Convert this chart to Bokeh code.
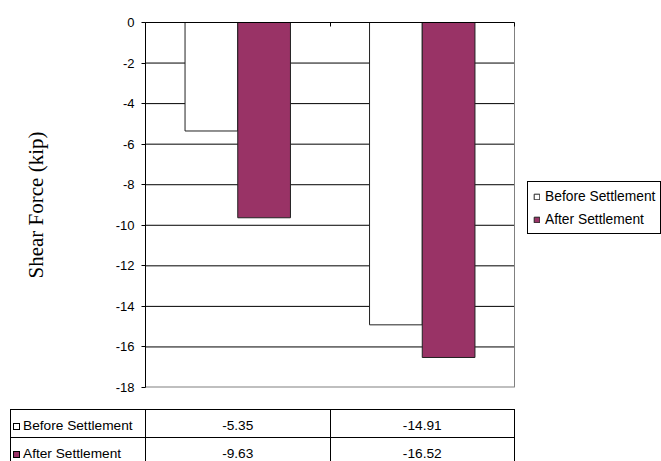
from bokeh.plotting import figure
from bokeh.models import Range1d, FixedTicker, Legend, LegendItem, ColumnDataSource, Div
from bokeh.transform import dodge
from bokeh.layouts import column
from bokeh.embed import file_html
from bokeh.resources import INLINE

# ---- data ----
categories = ["1", "2"]
series_names = ["Before Settlement", "After Settlement"]
before = [-5.35, -14.91]
after = [-9.63, -16.52]
y_ticks = [-18, -16, -14, -12, -10, -8, -6, -4, -2, 0]
y_label = "Shear Force (kip)"

# ---- style / layout ----
PLUM = "#993366"
COLORS = ["white", PLUM]
FONT = "Liberation Sans"
W, H_MAIN, H_TBL = 661, 398, 63
FL, FR = 145, 514            # plot-area left/right in px
n = len(categories)
x_end = n * (W - FL) / (FR - FL)   # frame runs to the right edge; plot area is 0..n
bw = 1 / 3.5
ymin, ymax = min(y_ticks), max(y_ticks)

src = ColumnDataSource(dict(x=[i + 0.5 for i in range(n)], before=before, after=after))

p = figure(width=W, height=H_MAIN, x_range=Range1d(0, x_end),
           y_range=Range1d(ymin, ymax), x_axis_location="above",
           output_backend="svg", toolbar_location=None,
           min_border_left=FL, min_border_right=0, min_border_top=22,
           min_border_bottom=11, outline_line_color=None,
           background_fill_color="white", border_fill_color="white")

p.xaxis.ticker = FixedTicker(ticks=list(range(n + 1)))
p.xaxis.bounds = (0, n)
p.xaxis.major_label_overrides = {i: "" for i in range(n + 1)}
p.xaxis.major_tick_in = 4
p.xaxis.major_tick_out = 0
p.xaxis.minor_tick_line_color = None
p.xaxis.axis_line_color = "black"
p.xaxis.major_tick_line_color = "black"
p.xgrid.visible = False
p.ygrid.visible = False

p.yaxis.ticker = FixedTicker(ticks=y_ticks)
p.yaxis.bounds = (ymin, ymax)
p.yaxis.major_label_overrides = {t: str(t) for t in y_ticks}
p.yaxis.major_tick_out = 4
p.yaxis.major_tick_in = 0
p.yaxis.minor_tick_line_color = None
p.yaxis.axis_line_color = "black"
p.yaxis.major_tick_line_color = "black"
p.yaxis.major_label_text_font = FONT
p.yaxis.major_label_text_font_size = "13px"
p.yaxis.major_label_text_color = "black"
p.yaxis.major_label_standoff = 7
p.yaxis.axis_label = y_label
p.yaxis.axis_label_text_font = "Liberation Serif"
p.yaxis.axis_label_text_font_size = "21px"
p.yaxis.axis_label_text_font_style = "normal"
p.yaxis.axis_label_text_color = "black"
p.yaxis.axis_label_standoff = 65

# horizontal grid lines across the plot area only (0..n)
inner = [t for t in y_ticks if ymin < t < ymax]
p.segment(x0=[0] * len(inner), x1=[n] * len(inner), y0=inner, y1=inner,
          line_color="black", line_width=1)
# grey right and bottom borders of the plot area
p.segment(x0=[n], x1=[n], y0=[ymin], y1=[ymax], line_color="#808080", line_width=1)
p.segment(x0=[0], x1=[n], y0=[ymin], y1=[ymin], line_color="#808080", line_width=2)

r1 = p.vbar(x=dodge("x", -bw / 2, range=p.x_range), top=0, bottom="before", width=bw,
            source=src, fill_color=COLORS[0], line_color="#222222", line_width=1)
r2 = p.vbar(x=dodge("x", bw / 2, range=p.x_range), top=0, bottom="after", width=bw,
            source=src, fill_color=COLORS[1], line_color="#222222", line_width=1)

legend = Legend(items=[LegendItem(label=series_names[0], renderers=[r1]),
                       LegendItem(label=series_names[1], renderers=[r2])],
                location=(527 - FL, 387 - 234),
                label_text_font=FONT, label_text_font_size="13.8px",
                label_text_color="black",
                glyph_width=7, glyph_height=7, label_height=18, label_standoff=5,
                spacing=5, padding=5, margin=0,
                border_line_color="black", border_line_width=1, border_line_alpha=1,
                background_fill_color="white", background_fill_alpha=1)
p.add_layout(legend)

# ---- data table (below the chart) ----
vals = [before, after]
cell = ("border:1px solid #000;padding:4px 0 0 0;height:28px;box-sizing:border-box;"
        "white-space:nowrap;overflow:hidden;vertical-align:middle;")
rows_html = ""
for k, name in enumerate(series_names):
    key = (f'<span style="display:inline-block;width:7px;height:7px;'
           f'border:1px solid #000;background:{COLORS[k]};margin:0 3px 0 2px;'
           f'vertical-align:0px;"></span>')
    cells = "".join(f'<td style="{cell}text-align:center;">{v:.2f}</td>' for v in vals[k])
    rows_html += (f'<tr><td style="{cell}text-align:left;">{key}{name}</td>'
                  f'{cells}</tr>')
html = (f'<table style="border-collapse:collapse;table-layout:fixed;'
        f'margin:11px 0 0 10px;font-family:\'{FONT}\';font-size:13.7px;color:#000;'
        f'width:{FR - 10 + 1}px;">'
        f'<colgroup><col style="width:{FL - 10}px"><col style="width:{(FR - FL) / 2}px">'
        f'<col style="width:{(FR - FL) / 2}px"></colgroup>'
        f'{rows_html}</table>')
tbl = Div(text=html, width=W, height=H_TBL, styles={"margin": "0", "padding": "0",
                                                   "overflow": "hidden"})

layout = column(p, tbl, spacing=0)
open("out.html", "w").write(file_html(layout, INLINE))
